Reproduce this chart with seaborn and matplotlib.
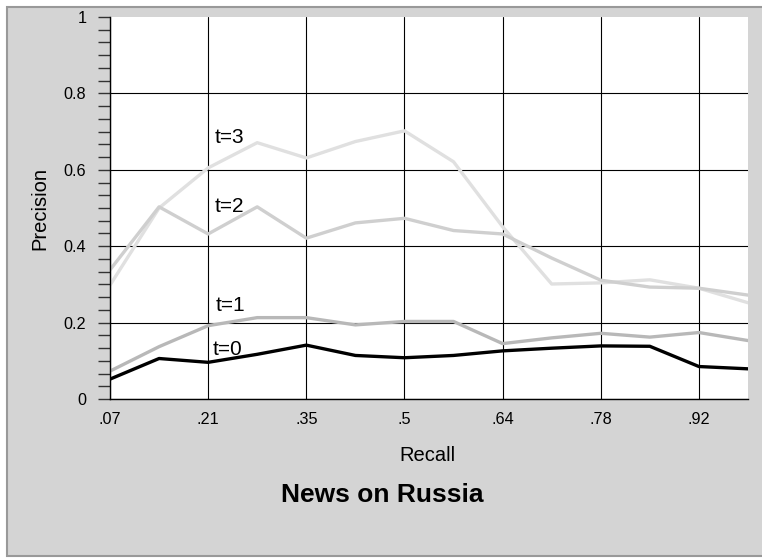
import numpy as np
import pandas as pd
import matplotlib
matplotlib.use('Agg')
import matplotlib.pyplot as plt
import seaborn as sns
from matplotlib.patches import Rectangle
from matplotlib.ticker import MultipleLocator

# Recall levels (x categories) and precision per iteration
recall = ['.07', '.14', '.21', '.28', '.35', '.42', '.5',
          '.57', '.64', '.71', '.78', '.85', '.92', '.99']
t0 = [0.052, 0.106, 0.096, 0.117, 0.141, 0.114, 0.108, 0.114, 0.126, 0.133, 0.139, 0.138, 0.085, 0.079]
t1 = [0.073, 0.137, 0.192, 0.213, 0.213, 0.194, 0.203, 0.203, 0.145, 0.160, 0.172, 0.162, 0.174, 0.153]
t2 = [0.338, 0.503, 0.432, 0.503, 0.421, 0.461, 0.473, 0.441, 0.432, 0.369, 0.311, 0.293, 0.290, 0.272]
t3 = [0.298, 0.500, 0.605, 0.671, 0.631, 0.674, 0.702, 0.621, 0.451, 0.301, 0.304, 0.312, 0.290, 0.252]

series_names = ['t=3', 't=2', 't=1', 't=0']
series_vals = [t3, t2, t1, t0]
series_colors = {'t=3': '#e0e0e0', 't=2': '#cfcfcf', 't=1': '#b8b8b8', 't=0': '#000000'}

# where the in-plot labels sit (x index, precision)
label_pos = {'t=3': (2.14, 0.669), 't=2': (2.14, 0.490), 't=1': (2.16, 0.231), 't=0': (2.10, 0.115)}

rows = []
for name, vals in zip(series_names, series_vals):
    for i, v in enumerate(vals):
        rows.append({'idx': i, 'precision': v, 'series': name})
df = pd.DataFrame(rows)

sns.set_style('white')
plt.rcParams['font.family'] = ['Liberation Sans', 'DejaVu Sans']
plt.rcParams['text.color'] = 'black'
plt.rcParams['axes.labelcolor'] = 'black'
plt.rcParams['xtick.color'] = 'black'
plt.rcParams['ytick.color'] = 'black'

fig = plt.figure(figsize=(7.62, 5.58), dpi=100, facecolor='white')
# grey panel with darker border, behind the axes
fig.patches.append(Rectangle((7 / 762, 2 / 558), 1.0, 549 / 558, transform=fig.transFigure,
                             facecolor='#d4d4d4', edgecolor='#999999', linewidth=1.5, zorder=-5))

ax = fig.add_axes([110 / 762, 159 / 558, 638 / 762, 382 / 558])
ax.set_facecolor('white')

sns.lineplot(data=df, x='idx', y='precision', hue='series', hue_order=series_names,
             palette=series_colors, linewidth=2.4, legend=False, sort=False, ax=ax)

ax.set_xlim(0, len(recall) - 1)
ax.set_ylim(0, 1)
ax.set_xticks(range(0, len(recall), 2))
ax.set_xticklabels(recall[::2])
yt = [0, 0.2, 0.4, 0.6, 0.8, 1]
ax.set_yticks(yt)
ax.set_yticklabels(['0', '0.2', '0.4', '0.6', '0.8', '1'])
ax.yaxis.set_minor_locator(MultipleLocator(1 / 30))

ax.grid(True, which='major', color='black', linewidth=0.8)
ax.yaxis.get_gridlines()[-1].set_visible(False)

for s in ['top', 'right']:
    ax.spines[s].set_visible(False)
for s in ['left', 'bottom']:
    ax.spines[s].set_color('black')
    ax.spines[s].set_linewidth(1)

ax.tick_params(axis='y', which='both', direction='out', length=9, width=1,
               color='#333333', labelsize=11.7, pad=8, left=True)
ax.tick_params(axis='x', length=0, labelsize=11.7, pad=9)

ax.set_xlabel('Recall', fontsize=14.5)
ax.xaxis.set_label_coords(0.498, -0.162)
ax.xaxis.label.set_va('baseline')
ax.set_ylabel('Precision', fontsize=14.5)
ax.yaxis.set_label_coords(-0.11, 0.5)
ax.yaxis.label.set_va('center')

for name in series_names:
    lx, ly = label_pos[name]
    ax.text(lx, ly, name, fontsize=15, ha='left', va='baseline', color='black')

fig.text(382 / 762, 56 / 558, 'News on Russia', fontsize=19, fontweight='bold',
         ha='center', va='baseline')

fig.savefig('out.png', dpi=100, facecolor=fig.get_facecolor())
